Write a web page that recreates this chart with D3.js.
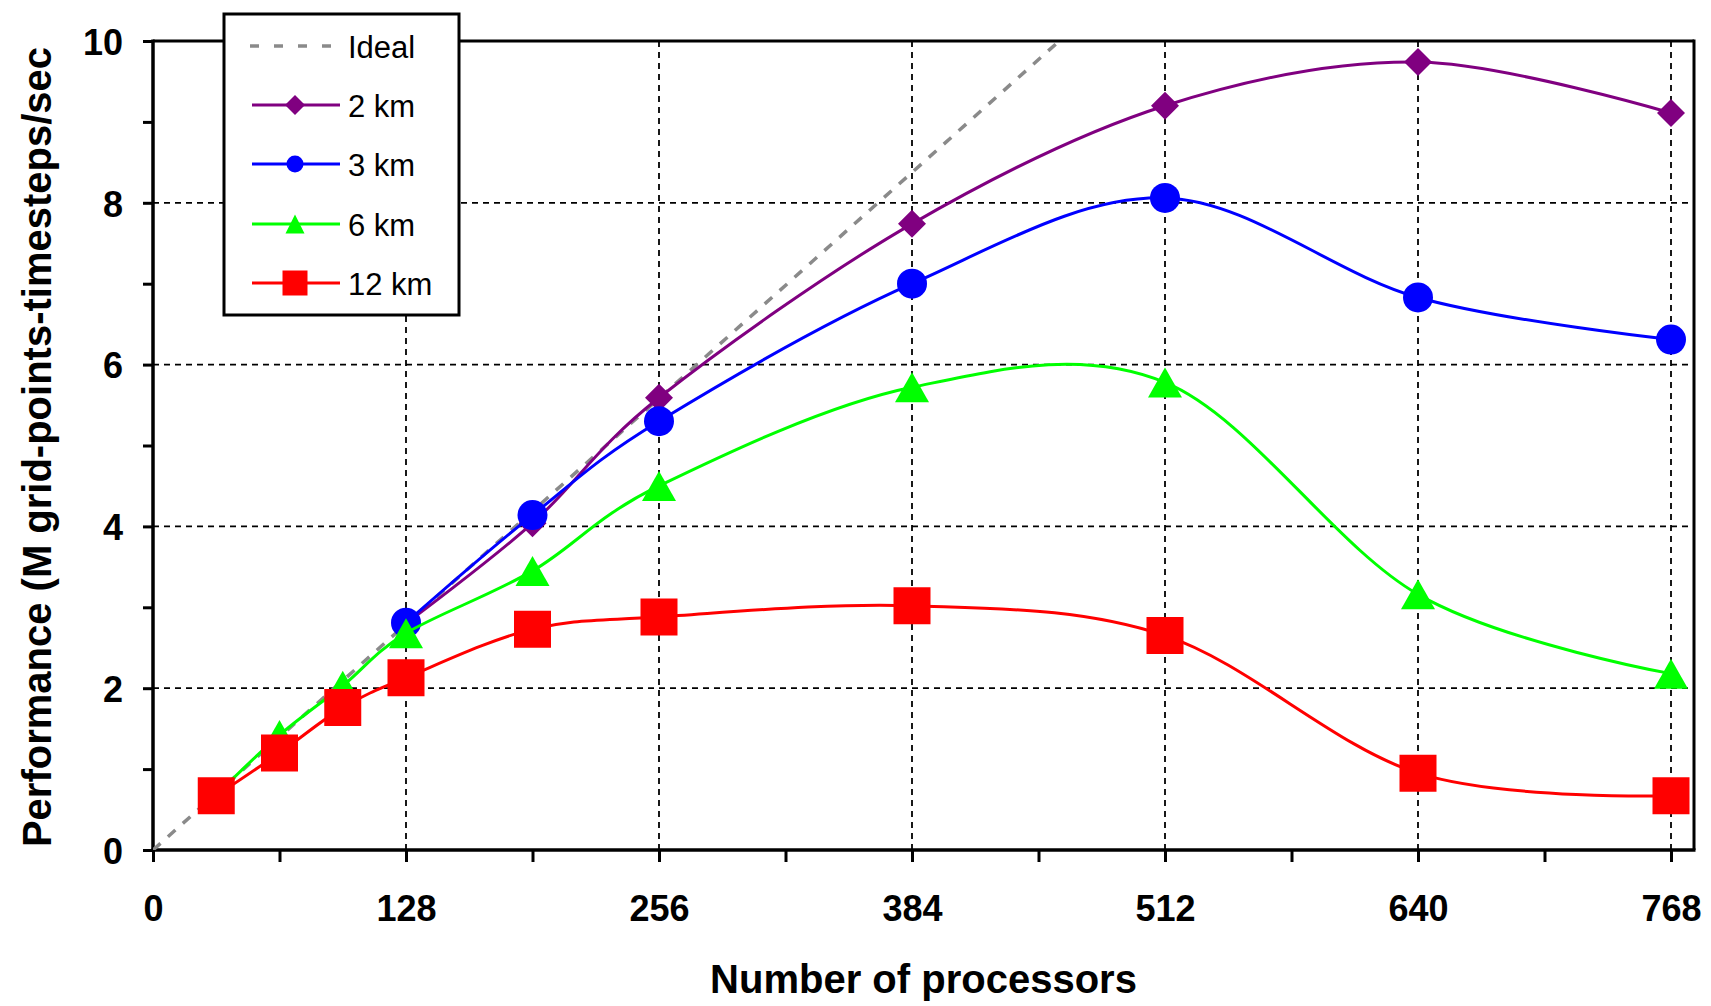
<!DOCTYPE html>
<html>
<head>
<meta charset="utf-8">
<script src="https://cdn.jsdelivr.net/npm/d3@7"></script>
<style>
  html, body { margin: 0; padding: 0; background: #fff; }
  svg { display: block; }
  text { font-family: "Liberation Sans", Arial, sans-serif; }
</style>
</head>
<body>
<svg id="chart" width="1711" height="1006"></svg>
<script>
// ---------------- data ----------------
const xTickLabels = [0, 128, 256, 384, 512, 640, 768];
const xMinorTicks = [0, 64, 128, 192, 256, 320, 384, 448, 512, 576, 640, 704, 768];
const yTickLabels = [0, 2, 4, 6, 8, 10];
const yMinorTicks = [0, 1, 2, 3, 4, 5, 6, 7, 8, 9, 10];

const idealProcs = [0, 768];
const idealPerf  = [0, 16.75];

const procs2km = [128, 192, 256, 384, 512, 640, 768];
const perf2km  = [2.80, 4.04, 5.59, 7.74, 9.20, 9.74, 9.11];

const procs3km = [128, 192, 256, 384, 512, 640, 768];
const perf3km  = [2.81, 4.14, 5.30, 7.00, 8.06, 6.83, 6.31];

const procs6km = [32, 64, 96, 128, 192, 256, 384, 512, 640, 768];
const perf6km  = [0.68, 1.42, 2.03, 2.68, 3.45, 4.50, 5.72, 5.78, 3.16, 2.18];

const procs12km = [32, 64, 96, 128, 192, 256, 384, 512, 640, 768];
const perf12km  = [0.67, 1.20, 1.76, 2.13, 2.73, 2.88, 3.02, 2.65, 0.95, 0.67];

const seriesNames = ["Ideal", "2 km", "3 km", "6 km", "12 km"];

// ---------------- layout ----------------
const plotLeft = 153, plotRight = 1694, plotTop = 41, plotBottom = 850;
const svg = d3.select("#chart");

const x = d3.scaleLinear().domain([0, 768]).range([plotLeft, 1671]);
const y = d3.scaleLinear().domain([0, 10]).range([plotBottom, plotTop]);

const FONT = '"Liberation Sans", Arial, sans-serif';

// clip
svg.append("defs").append("clipPath").attr("id", "plotClip")
  .append("rect").attr("x", plotLeft).attr("y", plotTop)
  .attr("width", plotRight - plotLeft).attr("height", plotBottom - plotTop);

// gridlines
const grid = svg.append("g");
grid.selectAll("line.hg").data(yTickLabels.filter(v => v > 0 && v < 10)).enter()
  .append("line")
  .attr("x1", plotLeft).attr("x2", plotRight)
  .attr("y1", d => y(d)).attr("y2", d => y(d))
  .attr("stroke", "#000").attr("stroke-width", 1.8).attr("stroke-dasharray", "6,5");
grid.selectAll("line.vg").data(xTickLabels.filter(v => v > 0)).enter()
  .append("line")
  .attr("x1", d => x(d)).attr("x2", d => x(d))
  .attr("y1", plotTop).attr("y2", plotBottom)
  .attr("stroke", "#000").attr("stroke-width", 1.8).attr("stroke-dasharray", "6,5");

// axes
const yAxis = d3.axisLeft(y).tickValues(yMinorTicks).tickSize(10).tickPadding(20)
  .tickFormat(d => yTickLabels.includes(d) ? d : "");
const gy = svg.append("g").attr("transform", `translate(${plotLeft},0)`).call(yAxis);
gy.select(".domain").remove();
gy.selectAll(".tick line").attr("stroke", "#000").attr("stroke-width", 3);
gy.selectAll(".tick text").attr("font-size", 36).attr("font-weight", "bold")
  .attr("font-family", FONT).attr("fill", "#000").attr("dy", "0.37em");

const xAxis = d3.axisBottom(x).tickValues(xMinorTicks).tickSize(12).tickPadding(33)
  .tickFormat(d => xTickLabels.includes(d) ? d : "");
const gx = svg.append("g").attr("transform", `translate(0,${plotBottom})`).call(xAxis);
gx.select(".domain").remove();
gx.selectAll(".tick line").attr("stroke", "#000").attr("stroke-width", 3);
gx.selectAll(".tick text").attr("font-size", 36).attr("font-weight", "bold")
  .attr("font-family", FONT).attr("fill", "#000");

// frame
svg.append("line").attr("x1", plotLeft).attr("x2", plotRight).attr("y1", plotTop).attr("y2", plotTop)
  .attr("stroke", "#000").attr("stroke-width", 3);
svg.append("line").attr("x1", plotRight).attr("x2", plotRight).attr("y1", plotTop - 1.5).attr("y2", plotBottom)
  .attr("stroke", "#000").attr("stroke-width", 3);
svg.append("line").attr("x1", plotLeft).attr("x2", plotLeft).attr("y1", plotTop - 1.5).attr("y2", plotBottom + 2)
  .attr("stroke", "#000").attr("stroke-width", 3.5);
svg.append("line").attr("x1", plotLeft - 1.5).attr("x2", plotRight + 1.5).attr("y1", plotBottom).attr("y2", plotBottom)
  .attr("stroke", "#000").attr("stroke-width", 3.5);

// axis titles
svg.append("text").attr("x", (plotLeft + plotRight) / 2).attr("y", 993)
  .attr("text-anchor", "middle").attr("font-size", 40).attr("font-weight", "bold")
  .attr("font-family", FONT).text("Number of processors");
svg.append("text").attr("transform", "translate(51,447) rotate(-90)")
  .attr("text-anchor", "middle").attr("font-size", 40).attr("font-weight", "bold")
  .attr("font-family", FONT).text("Performance (M grid-points-timesteps/sec");

// markers
function diamond(r) { return `M0,${-r}L${r},0L0,${r}L${-r},0Z`; }
function triangle(w, h) { return `M0,${-h/2}L${w/2},${h/2}L${-w/2},${h/2}Z`; }
function square(s) { return `M${-s/2},${-s/2}h${s}v${s}h${-s}Z`; }
function circle(r) { return `M${-r},0a${r},${r} 0 1,0 ${2*r},0a${r},${r} 0 1,0 ${-2*r},0Z`; }

const series = [
  { name: seriesNames[1], xs: procs2km, ys: perf2km, color: "#800080", mark: diamond(14), legMark: diamond(10) },
  { name: seriesNames[2], xs: procs3km, ys: perf3km, color: "#0000ff", mark: circle(15), legMark: circle(8.5) },
  { name: seriesNames[3], xs: procs6km, ys: perf6km, color: "#00ff00", mark: triangle(34, 30), legMark: triangle(19, 19) },
  { name: seriesNames[4], xs: procs12km, ys: perf12km, color: "#ff0000", mark: square(37), legMark: square(25) }
];

const plotG = svg.append("g").attr("clip-path", "url(#plotClip)");

// ideal line
const idealData = idealProcs.map((p, i) => [p, idealPerf[i]]);
plotG.append("path")
  .attr("d", d3.line().x(d => x(d[0])).y(d => y(d[1]))(idealData))
  .attr("fill", "none").attr("stroke", "#8a8a8a").attr("stroke-width", 3.5)
  .attr("stroke-dasharray", "10,10");

const smooth = d3.line().x(d => x(d[0])).y(d => y(d[1])).curve(d3.curveCardinal.tension(0));

const marksG = svg.append("g");
series.forEach(s => {
  const data = s.xs.map((p, i) => [p, s.ys[i]]);
  marksG.append("path").attr("d", smooth(data))
    .attr("fill", "none").attr("stroke", s.color).attr("stroke-width", 3);
  marksG.selectAll(null).data(data).enter().append("path")
    .attr("d", s.mark)
    .attr("transform", d => `translate(${x(d[0])},${y(d[1])})`)
    .attr("fill", s.color);
});

// legend
const leg = svg.append("g");
leg.append("rect").attr("x", 224).attr("y", 14).attr("width", 235).attr("height", 301)
  .attr("fill", "#fff").attr("stroke", "#000").attr("stroke-width", 3);
const rowY = [46, 105, 164, 224, 283];
// ideal entry
leg.append("line").attr("x1", 250).attr("x2", 332).attr("y1", rowY[0]).attr("y2", rowY[0])
  .attr("stroke", "#8a8a8a").attr("stroke-width", 3.5).attr("stroke-dasharray", "9,15");
leg.append("text").attr("x", 348).attr("y", rowY[0] + 12).attr("font-size", 31)
  .attr("font-family", FONT).text(seriesNames[0]);
series.forEach((s, i) => {
  const cy = rowY[i + 1];
  leg.append("line").attr("x1", 252).attr("x2", 340).attr("y1", cy).attr("y2", cy)
    .attr("stroke", s.color).attr("stroke-width", 3);
  leg.append("path").attr("d", s.legMark).attr("transform", `translate(295,${cy})`).attr("fill", s.color);
  leg.append("text").attr("x", 348).attr("y", cy + 12).attr("font-size", 31)
    .attr("font-family", FONT).text(s.name);
});
</script>
</body>
</html>
